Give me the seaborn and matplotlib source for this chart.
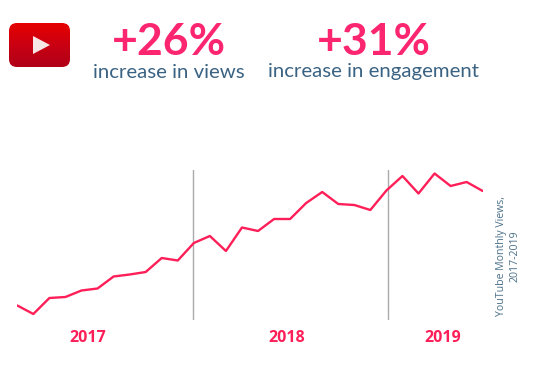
import matplotlib
matplotlib.use("Agg")
import matplotlib.pyplot as plt
from matplotlib.patches import FancyBboxPatch, Polygon
import numpy as np
import pandas as pd
import seaborn as sns

# monthly views, index (no scale in the original)
months = list(range(30))
views = [14.5, 6, 22, 23, 29.5, 31.5, 43.5, 45.5, 48, 62, 59.5, 77, 84, 69,
         92.5, 89, 101, 101, 117, 128, 116, 115, 110, 129.5, 144, 126.5, 146.5, 134, 138, 129]
year_splits = [10.93, 23.09]
year_labels = ["2017", "2018", "2019"]
year_pos = [4.4, 16.8, 26.5]
stat_values = ["+26%", "+31%"]
stat_labels = ["increase in views", "increase in engagement"]
stat_pos = [169, 374]

PINK = "#ff1f58"
TEAL = "#3a6282"
W, H = 534, 373

sns.set_theme(style="white")
plt.rcParams["font.family"] = ["Lato", "DejaVu Sans"]

fig = plt.figure(figsize=(W / 100, H / 100), dpi=100, facecolor="white")

# chart axes: x from px 17.3 to 482.7, y from px 320 (bottom) to 160 (top)
ax = fig.add_axes([17.3 / W, (H - 320) / H, 465.4 / W, 160 / H])
df = pd.DataFrame({"month": months, "views": views})
sns.lineplot(data=df, x="month", y="views", color=PINK, lw=1.7, ax=ax, zorder=3)
ax.set_xlim(0, 29)
ax.set_ylim(0, 160)
ax.axis("off")

for s in year_splits:
    ax.plot([s, s], [1, 149.5], color="#a9a9ae", lw=1, zorder=2, clip_on=False)
for pos, lab in zip(year_pos, year_labels):
    ax.text(pos, -17.5, lab, color=PINK, fontsize=11.5, fontweight="bold", family="Open Sans",
            ha="center", va="center", clip_on=False)

fig.text(508.5 / W, 1 - 256 / H, "YouTube Monthly Views,\n2017-2019", rotation=90, color="#4a6f88",
         fontsize=7.6, family="Open Sans", ha="center", va="center", multialignment="center", linespacing=1.35)

for x, v, lab in zip(stat_pos, stat_values, stat_labels):
    fig.text(x / W, 1 - 42 / H, v, color="#fb2570", fontsize=32, fontweight="bold", ha="center", va="center")
    fig.text(x / W, 1 - 72 / H, lab, color=TEAL, fontsize=14.7, ha="center", va="center")

# youtube icon
icon = fig.add_axes([9 / W, 1 - 67 / H, 61 / W, 44 / H])
icon.set_xlim(0, 61)
icon.set_ylim(44, 0)
icon.axis("off")
grad = icon.imshow(np.linspace(0, 1, 64).reshape(-1, 1), extent=[0, 61, 44, 0], aspect="auto",
                   cmap=matplotlib.colors.LinearSegmentedColormap.from_list("yt", ["#e60000", "#c90012", "#b00018"]))
box = FancyBboxPatch((8, 8), 45, 28, boxstyle="round,pad=8", fc="none", ec="none")
icon.add_patch(box)
grad.set_clip_path(box)
icon.add_patch(Polygon([[24, 13], [41, 22], [24, 31]], fc="#f6e6e6", ec="none"))

fig.savefig("out.png", dpi=100, facecolor="white")
